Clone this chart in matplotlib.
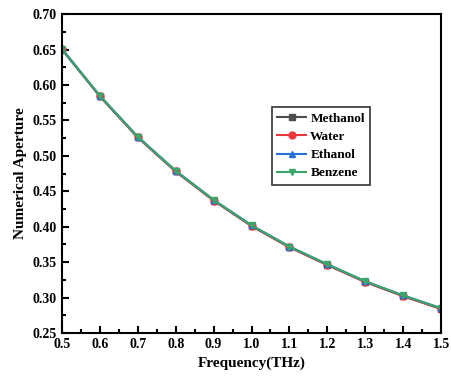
import numpy as np
import matplotlib.pyplot as plt
from matplotlib.ticker import MultipleLocator

plt.rcParams['font.family'] = ['Liberation Serif', 'DejaVu Serif']
plt.rcParams['font.weight'] = 'bold'

freq = [0.5, 0.6, 0.7, 0.8, 0.9, 1.0, 1.1, 1.2, 1.3, 1.4, 1.5]
methanol = [0.650, 0.584, 0.526, 0.478, 0.437, 0.401, 0.371, 0.346, 0.322, 0.302, 0.284]
water = [0.651, 0.584, 0.526, 0.478, 0.437, 0.401, 0.371, 0.346, 0.322, 0.302, 0.284]
ethanol = [0.651, 0.585, 0.527, 0.479, 0.438, 0.402, 0.372, 0.347, 0.323, 0.303, 0.285]
benzene = [0.651, 0.585, 0.527, 0.479, 0.438, 0.402, 0.372, 0.347, 0.323, 0.303, 0.285]

fig = plt.figure(figsize=(4.52, 3.83), dpi=100)
ax = fig.add_axes([0.137, 0.1305, 0.839, 0.8325])

ax.plot(freq, methanol, color='#4d4d4d', marker='s', ms=5, lw=1.5, label='Methanol')
ax.plot(freq, water, color='#e8383d', marker='o', ms=5, lw=1.5, label='Water')
ax.plot(freq, ethanol, color='#2a6fd6', marker='^', ms=5, lw=1.5, label='Ethanol')
ax.plot(freq, benzene, color='#3aa66a', marker='v', ms=5, lw=1.5, label='Benzene')

ax.set_xlim(0.5, 1.5)
ax.set_ylim(0.25, 0.70)
ax.xaxis.set_major_locator(MultipleLocator(0.1))
ax.xaxis.set_minor_locator(MultipleLocator(0.05))
ax.yaxis.set_major_locator(MultipleLocator(0.05))
ax.yaxis.set_minor_locator(MultipleLocator(0.025))
ax.xaxis.set_major_formatter(plt.FuncFormatter(lambda v, p: f'{v:.1f}'))
ax.yaxis.set_major_formatter(plt.FuncFormatter(lambda v, p: f'{v:.2f}'))
ax.tick_params(which='both', direction='in', width=1.5, labelsize=10)
ax.tick_params(which='major', length=5)
ax.tick_params(which='minor', length=3)
for s in ax.spines.values():
    s.set_linewidth(1.5)

ax.set_xlabel('Frequency(THz)', fontsize=11, fontweight='bold')
ax.set_ylabel('Numerical Aperture', fontsize=11, fontweight='bold')

leg = ax.legend(loc='upper left', bbox_to_anchor=(0.554, 0.708), fontsize=9.5,
                frameon=True, fancybox=False, edgecolor='black', handlelength=2.2,
                handletextpad=0.3, borderpad=0.4, labelspacing=0.45, borderaxespad=0)
leg.get_frame().set_linewidth(1.2)

fig.savefig('out.png', dpi=100)
